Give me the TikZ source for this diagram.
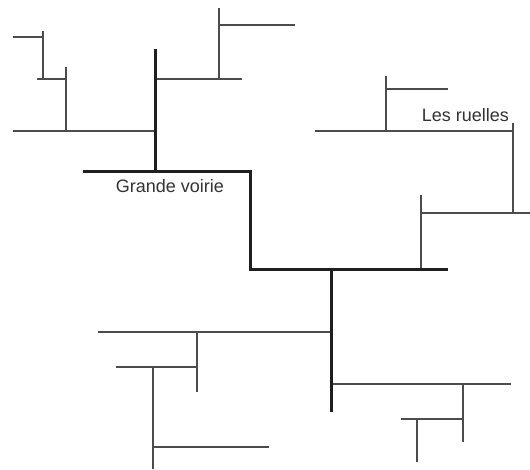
\documentclass[tikz,border=0pt]{standalone}
\usepackage{fontspec}
\setmainfont{Liberation Sans}
\begin{document}
\begin{tikzpicture}[x=1pt,y=-1pt,
  ruelle/.style={draw=black!70, line width=1.3pt},
  voirie/.style={draw=black!88, line width=3pt},
  lbl/.style={text=black!80, font=\fontsize{18}{20}\selectfont, inner sep=0pt}]
\useasboundingbox[fill=white] (0,0) rectangle (530,470);
% ruelles (thin)
\draw[ruelle] (13,37) -- (43,37) (43,31) -- (43,79);
\draw[ruelle] (37,79) -- (66,79) (66,67) -- (66,131);
\draw[ruelle] (13,131) -- (155,131);
\draw[ruelle] (155,79) -- (242,79) (219,8) -- (219,79) (219,25) -- (295,25);
\draw[ruelle] (386,76) -- (386,131) (386,89) -- (448,89);
\draw[ruelle] (315,131) -- (513,131) (513,123) -- (513,213);
\draw[ruelle] (421,213) -- (530,213) (421,195) -- (421,270);
\draw[ruelle] (98,332) -- (331,332) (197,332) -- (197,392);
\draw[ruelle] (116,367) -- (197,367) (153,367) -- (153,469);
\draw[ruelle] (153,447) -- (269,447);
\draw[ruelle] (331,384) -- (511,384) (463,384) -- (463,442);
\draw[ruelle] (401,419) -- (463,419) (417,419) -- (417,462);
% grande voirie (thick)
\draw[voirie] (155,49) -- (155,172);
\draw[voirie] (83,172) -- (250,172) -- (250,270) -- (448,270);
\draw[voirie] (331,270) -- (331,412);
% labels
\node[lbl, anchor=base] (gv) at (170,193) {Grande voirie};
\node[lbl, anchor=base] (lr) at (465.5,122) {Les ruelles};
\end{tikzpicture}
\end{document}
